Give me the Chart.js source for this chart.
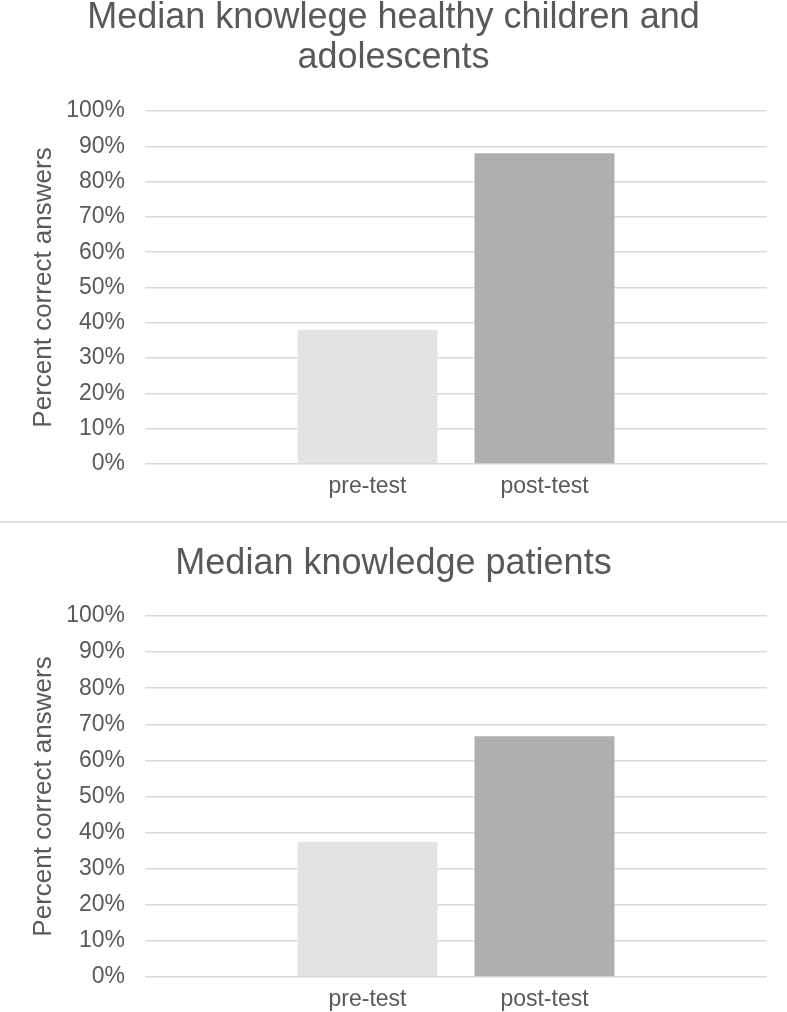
<!DOCTYPE html>
<html>
<head>
<meta charset="utf-8">
<script src="https://cdn.jsdelivr.net/npm/chart.js@4"></script>
<style>
  body { margin: 0; background: #fff; }
  .box { position: absolute; left: 0; width: 787px; }
  #topBox { top: 0; height: 521px; }
  #rule { position: absolute; left: 0; top: 521px; width: 787px; height: 2px; background: #dedede; }
  #bottomBox { top: 523px; height: 489px; }
</style>
</head>
<body>
<div class="box" id="topBox"><canvas id="healthyChart"></canvas></div>
<div id="rule"></div>
<div class="box" id="bottomBox"><canvas id="patientChart"></canvas></div>

<script>
const groups = ['pre-test', 'post-test'];
const healthyValues = [38, 88];
const patientValues = [37.5, 66.7];
const barColors = ['#e3e3e3', '#afafaf'];
const textGray = '#595959';
const fontFamily = '"Liberation Sans", Arial, sans-serif';

// each bar gets its name written under it (one category, two bars)
const barNames = {
  id: 'barNames',
  afterDatasetsDraw(chart) {
    const ctx = chart.ctx;
    ctx.save();
    ctx.font = '23px ' + fontFamily;
    ctx.fillStyle = textGray;
    ctx.textAlign = 'center';
    ctx.textBaseline = 'alphabetic';
    chart.data.datasets.forEach((ds, i) => {
      const bar = chart.getDatasetMeta(i).data[0];
      ctx.fillText(ds.label, bar.x, chart.chartArea.bottom + 29);
    });
    ctx.restore();
  }
};

function makeChart(canvasId, title, values, titlePad, bottomPad) {
  const ctx = document.getElementById(canvasId).getContext('2d');
  return new Chart(ctx, {
    type: 'bar',
    data: {
      labels: [''],
      datasets: groups.map((g, i) => ({
        label: g,
        data: [values[i]],
        backgroundColor: barColors[i],
        categoryPercentage: 0.569,
        barPercentage: 0.791
      }))
    },
    options: {
      responsive: true,
      maintainAspectRatio: false,
      animation: false,
      layout: { padding: { left: 20, right: 20, top: 0, bottom: bottomPad } },
      plugins: {
        legend: { display: false },
        tooltip: { enabled: false },
        title: {
          display: true,
          text: title,
          color: textGray,
          font: { family: fontFamily, size: 36, weight: 'normal', lineHeight: 40 / 36 },
          padding: titlePad
        }
      },
      scales: {
        x: { display: false },
        y: {
          min: 0,
          max: 100,
          afterFit: s => { s.width = 125; },
          border: { display: false },
          grid: { color: '#d9d9d9', lineWidth: 1.5, drawTicks: false },
          ticks: {
            stepSize: 10,
            padding: 20,
            color: textGray,
            font: { family: fontFamily, size: 23 },
            callback: v => v + '%'
          },
          title: {
            display: true,
            text: 'Percent correct answers',
            color: textGray,
            font: { family: fontFamily, size: 26 },
            padding: { top: 8, bottom: 0 }
          }
        }
      }
    },
    plugins: [barNames]
  });
}

makeChart('healthyChart', ['Median knowlege healthy children and', 'adolescents'], healthyValues, { top: -2, bottom: 33 }, 57);
makeChart('patientChart', 'Median knowledge patients', patientValues, { top: 21, bottom: 32 }, 35);
</script>
</body>
</html>
